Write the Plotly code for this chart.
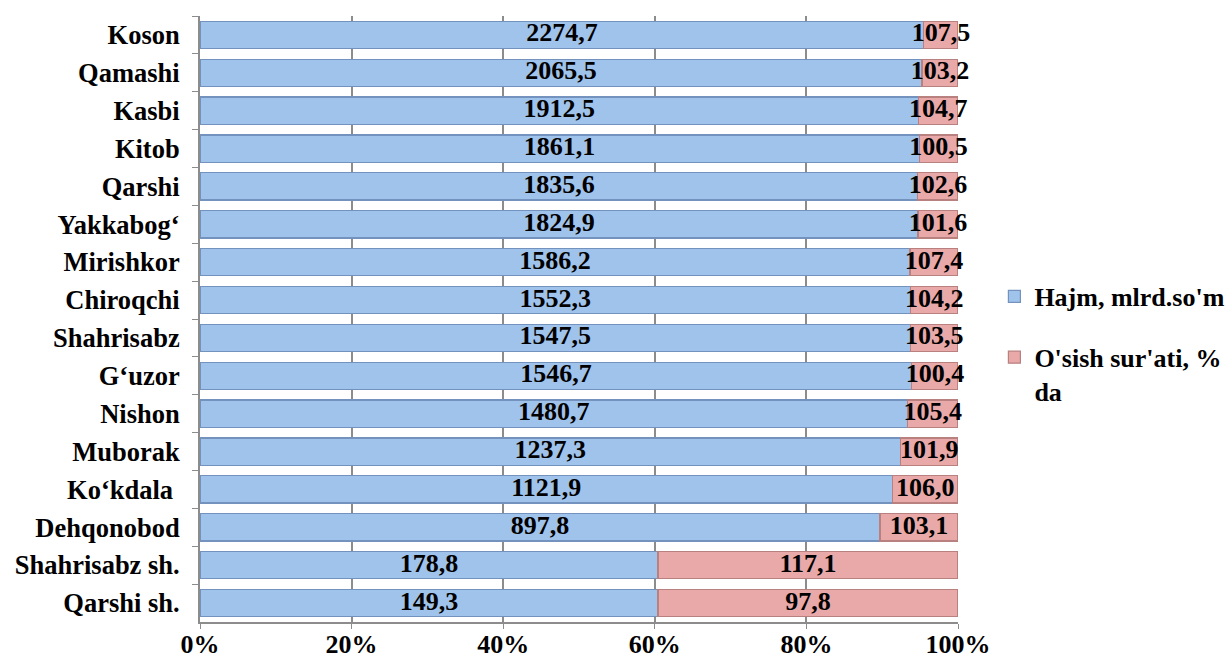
import plotly.graph_objects as go

districts = ["Koson", "Qamashi", "Kasbi", "Kitob", "Qarshi", "Yakkabog‘", "Mirishkor",
             "Chiroqchi", "Shahrisabz", "G‘uzor", "Nishon", "Muborak", "Ko‘kdala ",
             "Dehqonobod", "Shahrisabz sh.", "Qarshi sh."]
hajm = [2274.7, 2065.5, 1912.5, 1861.1, 1835.6, 1824.9, 1586.2, 1552.3, 1547.5,
        1546.7, 1480.7, 1237.3, 1121.9, 897.8, 178.8, 149.3]
osish = [107.5, 103.2, 104.7, 100.5, 102.6, 101.6, 107.4, 104.2, 103.5,
         100.4, 105.4, 101.9, 106.0, 103.1, 117.1, 97.8]

def fmt(v):
    return f"{v:.1f}".replace(".", ",")

FONT = "Liberation Serif, Times New Roman, serif"
lab_font = dict(family=FONT, size=26, color="black")

# label positions (middle of each stacked segment, in percent)
pct_h = [h / (h + o) * 100 for h, o in zip(hajm, osish)]
mid_h = [p / 2 for p in pct_h]
mid_o = [p + (100 - p) / 2 for p in pct_h]

fig = go.Figure()
fig.add_trace(go.Bar(
    y=districts, x=hajm, orientation="h", name="<b>Hajm, mlrd.so'm</b>",
    marker=dict(color="#A0C3EB", line=dict(color="#7393BE", width=1.2)),
    legendgroup="a", hoverinfo="skip",
))
fig.add_trace(go.Bar(
    y=districts, x=osish, orientation="h", name="<b>O'sish sur'ati, %<br>da</b>",
    marker=dict(color="#E9A9A8", line=dict(color="#B98080", width=1.2)),
    legendgroup="b", hoverinfo="skip",
))
fig.add_trace(go.Scatter(
    y=districts, x=mid_h, mode="text", text=[f"<b>{fmt(v)}</b>" for v in hajm],
    textposition="middle center", textfont=lab_font, showlegend=False,
    cliponaxis=False, hoverinfo="skip",
))
fig.add_trace(go.Scatter(
    y=districts, x=mid_o, mode="text", text=[f"<b>{fmt(v)}</b>" for v in osish],
    textposition="middle center", textfont=lab_font, showlegend=False,
    cliponaxis=False, hoverinfo="skip",
))

n = len(districts)
fig.update_layout(
    width=1231, height=663,
    barmode="stack", barnorm="percent", bargap=0.28,
    paper_bgcolor="white", plot_bgcolor="white",
    margin=dict(l=200, r=273, t=16, b=41, autoexpand=False),
    font=dict(family=FONT, size=26, color="black"),
    showlegend=True,
    legend=dict(x=1.048, y=0.576, xanchor="left", yanchor="top", valign="top",
                font=dict(family=FONT, size=26, color="black"),
                tracegroupgap=24, itemwidth=30, bgcolor="rgba(0,0,0,0)"),
    xaxis=dict(range=[0, 100], dtick=20, showgrid=True,
               gridcolor="#8C8C8C", gridwidth=1.5, showline=True, linecolor="#8C8C8C",
               linewidth=1.5, ticks="outside", ticklen=5, tickcolor="#8C8C8C",
               tickfont=dict(family=FONT, size=26, color="black"), zeroline=False,
               tickprefix="<b>", ticksuffix="%</b>", automargin=False,
               ticklabelstandoff=-7),
    yaxis=dict(range=[n - 0.5, -0.5], autorange=False, showline=True,
               linecolor="#8C8C8C", linewidth=1.5,
               ticks="outside", ticklen=6, tickcolor="#8C8C8C", tickson="boundaries",
               tickfont=dict(family=FONT, size=26.5, color="black"),
               tickprefix="<b>", ticksuffix="</b>  ", automargin=False),
)

fig.write_html("out.html", config={"displayModeBar": False},
               post_script="document.body.style.margin='0';document.body.style.overflow='hidden';")
